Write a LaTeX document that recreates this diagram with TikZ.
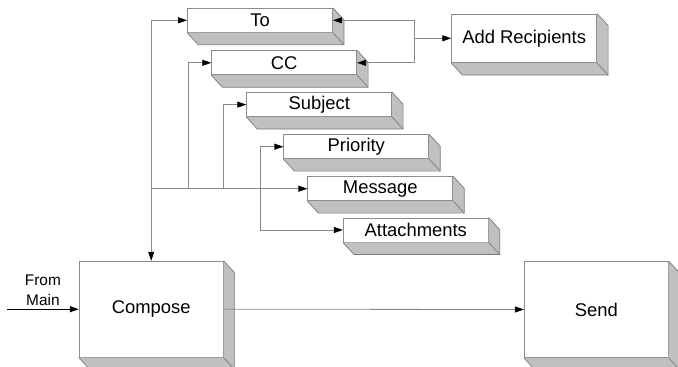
\documentclass[tikz,border=0pt]{standalone}
\usepackage{fontspec}
\setmainfont{Liberation Sans}
\usetikzlibrary{arrows.meta,positioning,calc}
\definecolor{frame}{HTML}{8C8C8C}
\definecolor{edge}{HTML}{7A7A7A}
\definecolor{side}{HTML}{C0C0C0}
\definecolor{wire}{HTML}{8A8A8A}
\newcommand{\lbl}{\fontsize{18.4}{22}\selectfont}
\newcommand{\entrylbl}{\fontsize{15.4}{19.5}\selectfont}
% extruded faces behind a box, down and to the right
\newcommand{\slab}[1]{%
  \fill[side] (#1.south west) -- ++(11,12) -| ([shift={(11,12)}]#1.north east)
    -- (#1.north east) -- (#1.south east) -- cycle;
  \draw[edge,line width=0.7pt] (#1.south west) -- ++(11,12) -| ([shift={(11,12)}]#1.north east)
    -- (#1.north east);
  \draw[edge,line width=0.7pt] (#1.south east) -- ++(11,12);}
\tikzset{
  box/.style={draw=frame,line width=0.8pt,fill=white,font=\lbl,minimum width=145pt,minimum height=24pt,inner sep=0pt},
  bigbox/.style={box,minimum width=144pt,minimum height=96pt},
  ar/.style={-{Triangle[length=9pt,width=6pt,color=black]},draw=wire,line width=0.8pt},
}
\begin{document}
\begin{tikzpicture}[x=1pt,y=-1pt]
\useasboundingbox (0,0) rectangle (678,367);

% the field boxes
\node[box] (to) at (260,20.3) {To};
\node[box] (cc) at (284.2,62.8) {CC};
\node[box] (subj) at (319.2,104.6) {Subject};
\node[box] (pri) at (356.3,146.7) {Priority};
\node[box] (msg) at (380.3,188.7) {Message};
\node[box] (att) at (415.8,230) {Attachments};
\node[box,minimum height=48.7pt] (addrec) at (524.2,38.3) {Add Recipients};
\node[bigbox] (compose) at (151.2,309.2) {Compose};
\node[bigbox] (send) at (596.3,309.5) {Send};
\foreach \b in {to,cc,subj,pri,msg,att,addrec,compose,send}
  \slab{\b};

% fan out from Compose
\coordinate (bus) at (compose.north |- msg.west);
\coordinate (ccfork) at ([xshift=37]bus);
\coordinate (subjfork) at ([xshift=72]bus);
\coordinate (prifork) at ([xshift=109]bus);
\draw[ar] (bus) -- (compose.north);
\draw[ar] (bus) |- (to.west);
\draw[ar] (bus) -- (msg.west);
\draw[ar] (ccfork) |- (cc.west);
\draw[ar] (subjfork) |- (subj.west);
\draw[ar] (prifork) |- (pri.west);
\draw[ar] (prifork) |- (att.west);

% recipients
\coordinate (rfork) at ([xshift=-37]addrec.west);
\draw[ar] (rfork) -- (addrec.west);
\draw[ar] (rfork) |- (to.east);
\draw[ar] (rfork) |- (cc.east);

\draw[ar] (compose.east) -- (send.west);

% entry
\coordinate (entry) at (7,309.2);
\draw[-{Triangle[length=9pt,width=6pt]},line width=1.1pt] (entry) --
  node[above,align=center,font=\entrylbl,name=frommain] {From\\Main} (compose.west);
\end{tikzpicture}
\end{document}
